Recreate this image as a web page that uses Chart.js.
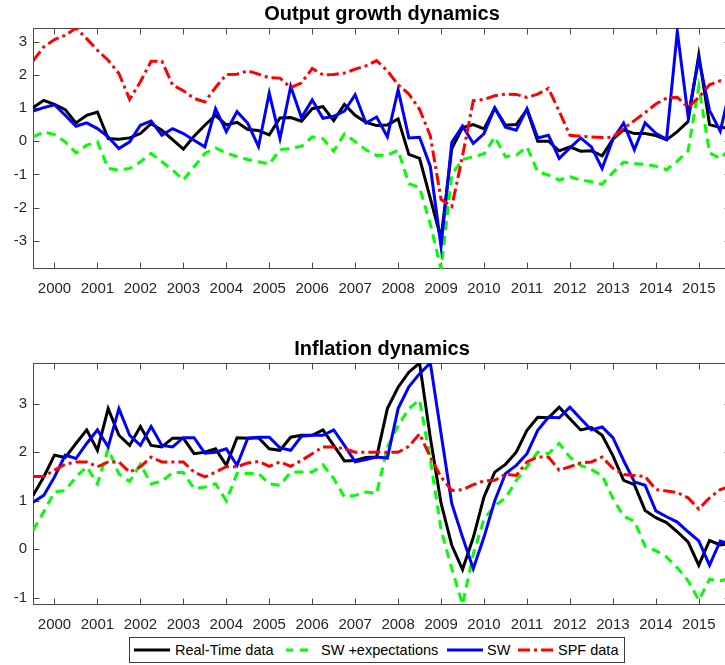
<!DOCTYPE html>
<html><head><meta charset="utf-8">
<script src="https://cdn.jsdelivr.net/npm/chart.js@4.4.1/dist/chart.umd.min.js"></script>
<style>
html,body{margin:0;padding:0;overflow:hidden;background:#fff;width:725px;height:665px;}
#wrap{position:relative;width:725px;height:665px;overflow:hidden;background:#fff;}
canvas{position:absolute;left:0;}
#c1{top:0;}
#c2{top:335px;}
#legend{position:absolute;left:129px;top:637px;width:496px;height:26px;box-sizing:border-box;border:1px solid #3a3a3a;background:#fff;font-family:'Liberation Sans',Arial,Helvetica,sans-serif;font-size:14.5px;color:#000;}
.lg{position:absolute;top:0;line-height:24px;white-space:nowrap;}
.sw{position:absolute;top:0;}
</style></head><body>
<div id="wrap">
<canvas id="c1" width="764" height="335"></canvas>
<canvas id="c2" width="764" height="330"></canvas>
<div id="legend">
  <svg class="sw" style="left:4px" width="36" height="24"><line x1="0" y1="12" x2="36" y2="12" stroke="#000" stroke-width="3"/></svg>
  <span class="lg" style="left:45px">Real-Time data</span>
  <svg class="sw" style="left:150px" width="36" height="24"><line x1="6" y1="12" x2="13" y2="12" stroke="#00ff00" stroke-width="3"/><line x1="20" y1="12" x2="28" y2="12" stroke="#00ff00" stroke-width="3"/></svg>
  <span class="lg" style="left:191px">SW +expectations</span>
  <svg class="sw" style="left:317px" width="36" height="24"><line x1="0" y1="12" x2="36" y2="12" stroke="#0000ff" stroke-width="3"/></svg>
  <span class="lg" style="left:357px">SW</span>
  <svg class="sw" style="left:388px" width="36" height="24"><line x1="0" y1="12" x2="36" y2="12" stroke="#ff0000" stroke-width="3" stroke-dasharray="12 4 3 4"/></svg>
  <span class="lg" style="left:428px">SPF data</span>
</div>
</div>
<script>
// ---------------- data ----------------
const quarters = [
 "1999Q3","1999Q4",
 "2000Q1","2000Q2","2000Q3","2000Q4",
 "2001Q1","2001Q2","2001Q3","2001Q4",
 "2002Q1","2002Q2","2002Q3","2002Q4",
 "2003Q1","2003Q2","2003Q3","2003Q4",
 "2004Q1","2004Q2","2004Q3","2004Q4",
 "2005Q1","2005Q2","2005Q3","2005Q4",
 "2006Q1","2006Q2","2006Q3","2006Q4",
 "2007Q1","2007Q2","2007Q3","2007Q4",
 "2008Q1","2008Q2","2008Q3","2008Q4",
 "2009Q1","2009Q2","2009Q3","2009Q4",
 "2010Q1","2010Q2","2010Q3","2010Q4",
 "2011Q1","2011Q2","2011Q3","2011Q4",
 "2012Q1","2012Q2","2012Q3","2012Q4",
 "2013Q1","2013Q2","2013Q3","2013Q4",
 "2014Q1","2014Q2","2014Q3","2014Q4",
 "2015Q1","2015Q2","2015Q3","2015Q4"
];
const yearTicks = [2000,2001,2002,2003,2004,2005,2006,2007,2008,2009,2010,2011,2012,2013,2014,2015];
const outputTicks = [-3,-2,-1,0,1,2,3];
const inflationTicks = [-1,0,1,2,3];

// Output growth dynamics
const outputRealTime = [1.01,1.23,1.11,0.95,0.55,0.78,0.88,0.08,0.06,0.10,0.23,0.53,0.33,0.05,-0.24,0.15,0.48,0.78,0.49,0.57,0.35,0.32,0.19,0.70,0.71,0.60,0.98,1.04,0.62,1.11,0.78,0.57,0.47,0.49,0.67,-0.40,-0.52,-1.72,-2.93,-0.22,0.41,0.50,0.37,1.00,0.48,0.50,0.95,0.00,0.00,-0.29,-0.17,-0.30,-0.29,-0.44,0.06,0.34,0.23,0.23,0.17,0.04,0.29,0.59,2.60,0.50,0.41,0.40];
const outputSWexp = [0.13,0.28,0.20,-0.02,-0.35,-0.12,-0.02,-0.82,-0.87,-0.82,-0.62,-0.37,-0.62,-0.87,-1.17,-0.77,-0.37,-0.20,-0.36,-0.46,-0.55,-0.62,-0.69,-0.25,-0.22,-0.15,0.13,0.08,-0.30,0.22,-0.01,-0.26,-0.43,-0.42,-0.27,-1.28,-1.40,-2.50,-3.85,-1.00,-0.55,-0.47,-0.38,0.13,-0.47,-0.42,-0.17,-0.92,-1.02,-1.17,-1.07,-1.17,-1.22,-1.30,-0.94,-0.63,-0.67,-0.70,-0.75,-0.86,-0.60,-0.29,1.65,-0.35,-0.52,-0.20];
const outputSW = [0.91,1.01,1.10,0.78,0.45,0.55,0.38,0.13,-0.22,-0.02,0.48,0.61,0.18,0.38,0.23,0.03,-0.17,0.98,0.29,0.89,0.54,-0.16,1.45,0.08,1.65,0.71,1.24,0.69,0.75,0.91,1.40,0.55,0.73,0.13,1.55,0.10,0.12,-0.76,-3.17,-0.03,0.46,-0.07,0.23,1.00,0.42,0.33,0.98,0.10,0.18,-0.52,-0.20,0.10,-0.17,-0.82,0.06,0.54,-0.26,0.55,0.24,0.06,3.30,0.76,2.48,0.93,0.30,1.70];
const outputSPF = [2.42,2.84,3.06,3.19,3.41,3.09,2.74,2.44,2.04,1.26,1.79,2.41,2.41,1.69,1.52,1.29,1.18,1.62,2.01,2.02,2.12,2.02,1.91,1.90,1.61,1.76,2.19,2.00,2.01,2.05,2.17,2.27,2.43,2.12,1.70,1.42,0.96,0.16,-1.75,-1.97,-0.44,1.22,1.26,1.37,1.42,1.41,1.32,1.42,1.59,0.90,0.18,0.15,0.13,0.11,0.12,0.38,0.62,0.86,1.12,1.30,1.32,1.02,1.32,1.70,1.82,1.80];

// Inflation dynamics
const inflRealTime = [1.11,1.49,1.94,1.89,2.18,2.46,2.04,2.90,2.35,2.14,2.53,2.14,2.11,2.29,2.29,1.97,2.00,2.07,1.73,2.30,2.29,2.30,2.07,2.04,2.31,2.35,2.35,2.46,2.14,1.82,1.83,1.89,1.90,2.90,3.34,3.65,3.84,2.30,0.95,0.08,-0.42,0.24,1.08,1.59,1.75,2.00,2.45,2.72,2.71,2.93,2.69,2.46,2.51,2.35,1.93,1.42,1.33,0.80,0.65,0.55,0.36,0.15,-0.33,0.18,0.09,0.12];
const inflSWexp = [0.39,0.77,1.18,1.21,1.49,1.70,1.35,2.07,1.55,1.40,1.75,1.35,1.40,1.58,1.58,1.25,1.28,1.35,1.00,1.56,1.56,1.56,1.35,1.32,1.59,1.59,1.59,1.74,1.46,1.08,1.11,1.18,1.15,2.10,2.55,2.90,3.08,1.85,0.40,-0.40,-1.14,-0.10,0.62,0.90,1.05,1.42,1.70,2.00,1.97,2.18,1.90,1.73,1.64,1.52,1.05,0.68,0.58,0.06,-0.03,-0.16,-0.38,-0.65,-1.05,-0.62,-0.65,-0.60];
const inflSW = [0.97,1.11,1.49,1.94,1.87,2.18,2.46,2.11,2.90,2.35,2.14,2.53,2.14,2.11,2.30,2.30,1.98,2.00,2.07,1.73,2.29,2.31,2.31,2.09,2.04,2.33,2.35,2.35,2.46,2.14,1.80,1.85,1.90,1.88,2.90,3.35,3.62,3.84,2.38,0.94,0.25,-0.40,0.25,1.00,1.56,1.73,1.97,2.45,2.72,2.71,2.93,2.69,2.46,2.52,2.30,1.83,1.39,1.32,0.79,0.67,0.56,0.36,0.17,-0.33,0.17,0.10];
const inflSPF = [1.50,1.50,1.63,1.75,1.80,1.80,1.70,1.80,1.80,1.59,1.70,1.90,1.80,1.80,1.80,1.59,1.49,1.59,1.70,1.70,1.78,1.81,1.71,1.80,1.71,1.83,1.97,2.11,2.11,2.07,2.00,2.00,2.00,2.00,2.00,2.12,2.38,1.90,1.49,1.21,1.23,1.33,1.41,1.42,1.55,1.52,1.80,1.90,1.90,1.63,1.70,1.78,1.80,1.90,1.67,1.54,1.52,1.50,1.23,1.20,1.17,1.06,0.83,1.06,1.23,1.30];

const seriesLabels = ["Real-Time data","SW +expectations","SW","SPF data"];
const outputRange = [-3.85, 3.41];
const inflationRange = [-1.14, 3.84];
const xRange = [1999.5, 2015.75];

// ---------------- chart ----------------
const FONT = "'Liberation Sans', Arial, Helvetica, sans-serif";
const AXIS_COLOR = '#262626';
const BOX_COLOR = '#4a4a4a';
const qToNum = q => parseInt(q.slice(0,4),10) + (parseInt(q.slice(5),10)-1)/4;
const xs = quarters.map(qToNum);
const toPts = arr => arr.map((v,i) => ({x: xs[i], y: v}));

const styles = [
  {color:'#000000', dash:[]},
  {color:'#00ff00', dash:[9,6]},
  {color:'#0000ff', dash:[]},
  {color:'#ff0000', dash:[12,4,3,4]}
];

const axesBox = {
  id: 'axesBox',
  beforeDatasetsDraw(chart) {
    const {ctx, chartArea: a, scales} = chart;
    ctx.save();
    ctx.strokeStyle = BOX_COLOR;
    ctx.lineWidth = 1;
    ctx.setLineDash([]);
    const L = Math.round(a.left) + 0.5, R = Math.round(a.right) - 0.5;
    const T = Math.round(a.top) + 0.5, B = Math.round(a.bottom) - 0.5;
    ctx.strokeRect(L, T, R - L, B - T);
    const tl = 6;
    ctx.beginPath();
    scales.x.ticks.forEach(t => {
      const px = Math.round(scales.x.getPixelForValue(t.value)) + 0.5;
      ctx.moveTo(px, B); ctx.lineTo(px, B - tl);
      ctx.moveTo(px, T); ctx.lineTo(px, T + tl);
    });
    scales.y.ticks.forEach(t => {
      const py = Math.round(scales.y.getPixelForValue(t.value)) + 0.5;
      ctx.moveTo(L, py); ctx.lineTo(L + tl, py);
      ctx.moveTo(R, py); ctx.lineTo(R - tl, py);
    });
    ctx.stroke();
    ctx.restore();
  }
};

function makeChart(id, title, seriesArr, yRange, yTicks, xAxisH) {
  const datasets = seriesArr.map((arr, i) => ({
    label: seriesLabels[i],
    data: toPts(arr),
    borderColor: styles[i].color,
    backgroundColor: styles[i].color,
    borderDash: styles[i].dash,
    borderWidth: 3,
    pointRadius: 0,
    tension: 0,
    fill: false,
    order: seriesArr.length - i
  }));
  return new Chart(document.getElementById(id), {
    type: 'line',
    data: { datasets },
    plugins: [axesBox],
    options: {
      responsive: false,
      animation: false,
      events: [],
      layout: { padding: 0 },
      plugins: {
        legend: { display: false },
        tooltip: { enabled: false },
        title: {
          display: true, text: title, color: '#000',
          font: { family: FONT, size: 20, weight: 'bold', lineHeight: 1.2 },
          padding: { top: 2, bottom: 2 }
        }
      },
      scales: {
        x: {
          type: 'linear', position: 'bottom',
          min: xRange[0], max: xRange[1],
          grid: { display: false, drawTicks: false },
          border: { display: false },
          afterBuildTicks: s => { s.ticks = yearTicks.map(v => ({value: v})); },
          afterFit: s => { s.height = xAxisH; },
          ticks: {
            autoSkip: false, maxRotation: 0, padding: 11, color: AXIS_COLOR,
            font: { family: FONT, size: 15 },
            callback: v => String(v)
          }
        },
        y: {
          type: 'linear', position: 'left',
          min: yRange[0], max: yRange[1],
          grid: { display: false, drawTicks: false },
          border: { display: false },
          afterBuildTicks: s => { s.ticks = yTicks.map(v => ({value: v})); },
          afterFit: s => { s.width = 33; },
          ticks: {
            padding: 6, color: AXIS_COLOR,
            font: { family: FONT, size: 15 },
            callback: v => String(v)
          }
        },
        yR: {
          type: 'linear', position: 'right', display: true,
          grid: { display: false, drawTicks: false },
          border: { display: false },
          ticks: { display: false },
          afterFit: s => { s.width = 33; }
        }
      }
    }
  });
}

makeChart('c1', 'Output growth dynamics', [outputRealTime, outputSWexp, outputSW, outputSPF], outputRange, outputTicks, 66);
makeChart('c2', 'Inflation dynamics', [inflRealTime, inflSWexp, inflSW, inflSPF], inflationRange, inflationTicks, 60.5);
</script>
</body></html>
